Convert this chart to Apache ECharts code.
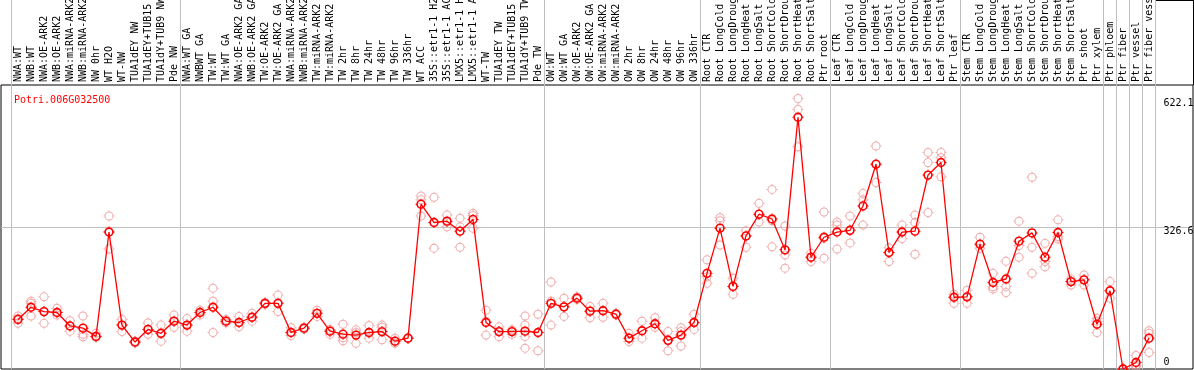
<!DOCTYPE html>
<html><head><meta charset="utf-8">
<script src="https://cdn.jsdelivr.net/npm/echarts@6/dist/echarts.min.js"></script>
<style>html,body{margin:0;padding:0;background:#fff}#c{width:1194px;height:370px}</style>
</head><body><div id="c"></div>
<script>
const title = 'Potri.006G032500';
const categories = ['NWA:WT','NWB:WT','NWA:OE-ARK2','NWB:OE-ARK2','NWA:miRNA-ARK2','NWB:miRNA-ARK2','NW 0hr','WT H2O','WT-NW','TUA1dEY NW','TUA1dEY+TUB15','TUA1dY+TUB9 NW','Pde NW',
'NWA:WT GA','NWBWT GA','TW:WT','TW:WT GA','NWA:OE-ARK2 GA','NWB:OE-ARK2 GA','TW:OE-ARK2','TW:OE-ARK2 GA','NWA:miRNA-ARK2 GA','NWB:miRNA-ARK2 GA','TW:miRNA-ARK2','TW:miRNA-ARK2 GA','TW 2hr','TW 8hr','TW 24hr','TW 48hr','TW 96hr','TW 336hr','WT ACC','35S::etr1-1 H2O','35S::etr1-1 ACC','LMX5::etr1-1 H2O','LMX5::etr1-1 ACC','WT-TW','TUA1dEY TW','TUA1dEY+TUB15 ','TUA1dY+TUB9 TW','Pde TW',
'OW:WT','OW:WT GA','OW:OE-ARK2','OW:OE-ARK2 GA','OW:miRNA-ARK2','OW:miRNA-ARK2 GA','OW 2hr','OW 8hr','OW 24hr','OW 48hr','OW 96hr','OW 336hr',
'Root CTR','Root LongCold','Root LongDrought','Root LongHeat','Root LongSalt','Root ShortCold','Root ShortDrought','Root ShortHeat','Root ShortSalt','Ptr root',
'Leaf CTR','Leaf LongCold','Leaf LongDrought','Leaf LongHeat','Leaf LongSalt','Leaf ShortCold','Leaf ShortDrought','Leaf ShortHeat','Leaf ShortSalt','Ptr leaf',
'Stem CTR','Stem LongCold','Stem LongDrought','Stem LongHeat','Stem LongSalt','Stem ShortCold','Stem ShortDrought','Stem ShortHeat','Stem ShortSalt','Ptr shoot','Ptr xylem',
'Ptr phloem','Ptr fiber','Ptr vessel','Ptr fiber vessel'];
const means = [114,142,132,130,99,94,75,315,101,62,91,82,110,
101,130,142,110,107,119,151,151,84,94,128,87,80,78,84,86,64,71,379,337,340,317,344,107,86,86,87,84,
151,143,163,133,134,126,71,88,104,66,78,107,
220,324,190,306,356,345,274,579,257,303,
315,319,375,471,268,315,317,446,475,165,
166,287,199,207,294,313,257,314,201,205,103,
180,0,15,71];
const replicates = [[122,116,105],[156,151,122],[166,132,105],[140,130,124],[111,99,87],[122,80,74],[82,76,73],[352,315,276],[114,101,86],[64,62,60],[106,91,80],[101,82,64],[124,110,96],
[116,101,87],[135,130,124],[186,156,84],[114,110,106],[121,107,97],[128,119,110],[153,151,149],[170,151,132],[95,84,77],[96,94,92],[135,128,121],[91,87,80],[103,72,65],[90,84,59],[100,82,71],[101,96,67],[71,64,59],[72,71,70],[398,389,352],[395,337,278],[354,338,327],[347,327,280],[358,353,324],[135,110,78],[97,86,74],[90,86,80],[122,101,75,48],[126,84,42],
[200,156,101],[163,143,121],[166,163,160],[144,133,118],[151,134,119],[128,126,124],[82,71,63],[110,88,71],[118,104,96],[86,66,42],[95,86,53],[126,107,91],
[251,212,197],[348,341,285],[209,190,172],[318,306,280],[381,356,338],[413,341,281],[329,262,232],[622.1,597,511],[266,257,247],[361,301,255],
[338,331,276],[352,319,290],[404,389,331],[513,471,429],[279,268,247],[331,315,300],[354,337,264],[498,475,360],[498,486,442],[172,165,151],
[181,166,151],[303,287,278],[220,189,184],[248,190,176],[340,284,257],[441,280,220],[289,247,235],[343,304,299],[207,201,193],[216,205,193],[116,110,84],
[201,180,163],[1,0,0],[31,9,5],[88,82,38]];
const groupStarts = [0,13,41,53,63,73,84,85,86,87];
const yTicks = [0, 326.6, 622.1];
const yMax = 653.2;

const repData = [];
replicates.forEach((arr, i) => arr.forEach(v => repData.push([i, v])));

const font = 'DejaVu Sans Mono';
const ring = (ro, ri) => 'path://M0,-' + ro + 'A' + ro + ',' + ro + ',0,1,1,0,' + ro + 'A' + ro + ',' + ro + ',0,1,1,0,-' + ro + 'Z' +
  'M0,-' + ri + 'A' + ri + ',' + ri + ',0,1,0,0,' + ri + 'A' + ri + ',' + ri + ',0,1,0,0,-' + ri + 'Z' +
  'M-0.5,-5.5L0.5,-5.5L0.5,-4.3L-0.5,-4.3Z' +
  'M-0.5,4.3L0.5,4.3L0.5,5.5L-0.5,5.5Z' +
  'M-5.5,-0.5L-4.3,-0.5L-4.3,0.5L-5.5,0.5Z' +
  'M4.3,-0.5L5.5,-0.5L5.5,0.5L4.3,0.5Z';
const sepLine = {show: true, interval: (idx) => groupStarts.indexOf(idx) >= 0, lineStyle: {color: '#c0c0c0', width: 1}};

const chart = echarts.init(document.getElementById('c'), null, {renderer: 'canvas'});
chart.setOption({
  animation: false,
  backgroundColor: '#fff',
  title: {text: title, left: 9, top: 90, textStyle: {color: '#ff0000', fontFamily: font, fontSize: 10, fontWeight: 'normal'}},
  grid: [
    {left: 11.5, width: 1144, top: 0, height: 85, outerBoundsMode: 'none', containLabel: false},
    {left: 1, right: 1, top: 85, bottom: 1, show: true, borderColor: '#000', borderWidth: 1, outerBoundsMode: 'none', containLabel: false},
    {left: 11.5, width: 1144, top: 85, bottom: 1, outerBoundsMode: 'none', containLabel: false}
  ],
  xAxis: [
    {gridIndex: 0, type: 'category', data: categories, axisLine: {show: false}, axisTick: {show: false}, axisLabel: {show: false}, splitLine: sepLine},
    {gridIndex: 1, type: 'value', show: false},
    {gridIndex: 2, type: 'category', position: 'top', data: categories, axisLine: {show: false}, axisTick: {show: false},
     axisLabel: {interval: 0, rotate: 90, margin: 3, color: '#000', fontFamily: font, fontSize: 10, hideOverlap: false},
     splitLine: sepLine}
  ],
  yAxis: [
    {gridIndex: 0, type: 'value', show: false},
    {gridIndex: 1, type: 'value', min: 0, max: yMax, interval: 326.6, axisLine: {show: false}, axisTick: {show: false}, axisLabel: {show: false},
     splitLine: {show: true, showMinLine: false, showMaxLine: false, lineStyle: {color: '#c0c0c0', width: 1}}},
    {gridIndex: 2, type: 'value', min: 0, max: yMax, position: 'right', axisLine: {show: false}, axisTick: {show: false}, splitLine: {show: false},
     axisLabel: {customValues: yTicks, margin: 8, align: 'left', verticalAlign: 'middle', color: '#000', fontFamily: font, fontSize: 10,
       formatter: v => v === 0 ? '{z|0}' : '{n|' + v + '}',
       rich: {z: {padding: [0, 0, 14, 0], fontFamily: font, fontSize: 10, color: '#000'}, n: {padding: [9, 0, 0, 0], fontFamily: font, fontSize: 10, color: '#000'}}}}
  ],
  graphic: [
    {type: 'line', shape: {x1: 1155.5, y1: 0.5, x2: 1193.5, y2: 0.5}, style: {stroke: '#000', lineWidth: 1}},
    {type: 'line', shape: {x1: 1193.5, y1: 0, x2: 1193.5, y2: 85}, style: {stroke: '#000', lineWidth: 1}}
  ],
  series: [
    {type: 'scatter', xAxisIndex: 2, yAxisIndex: 2, data: repData, symbol: ring(4.5, 3.5), symbolSize: 11,
     itemStyle: {color: 'rgb(236,150,150)'}, z: 2, silent: true},
    {type: 'line', xAxisIndex: 2, yAxisIndex: 2, data: means, symbol: ring(4.7, 3.1), symbolSize: 11, showAllSymbol: true,
     lineStyle: {color: '#ff0000', width: 1.3}, itemStyle: {color: '#ff0000'}, z: 3, silent: true}
  ]
});
</script></body></html>
